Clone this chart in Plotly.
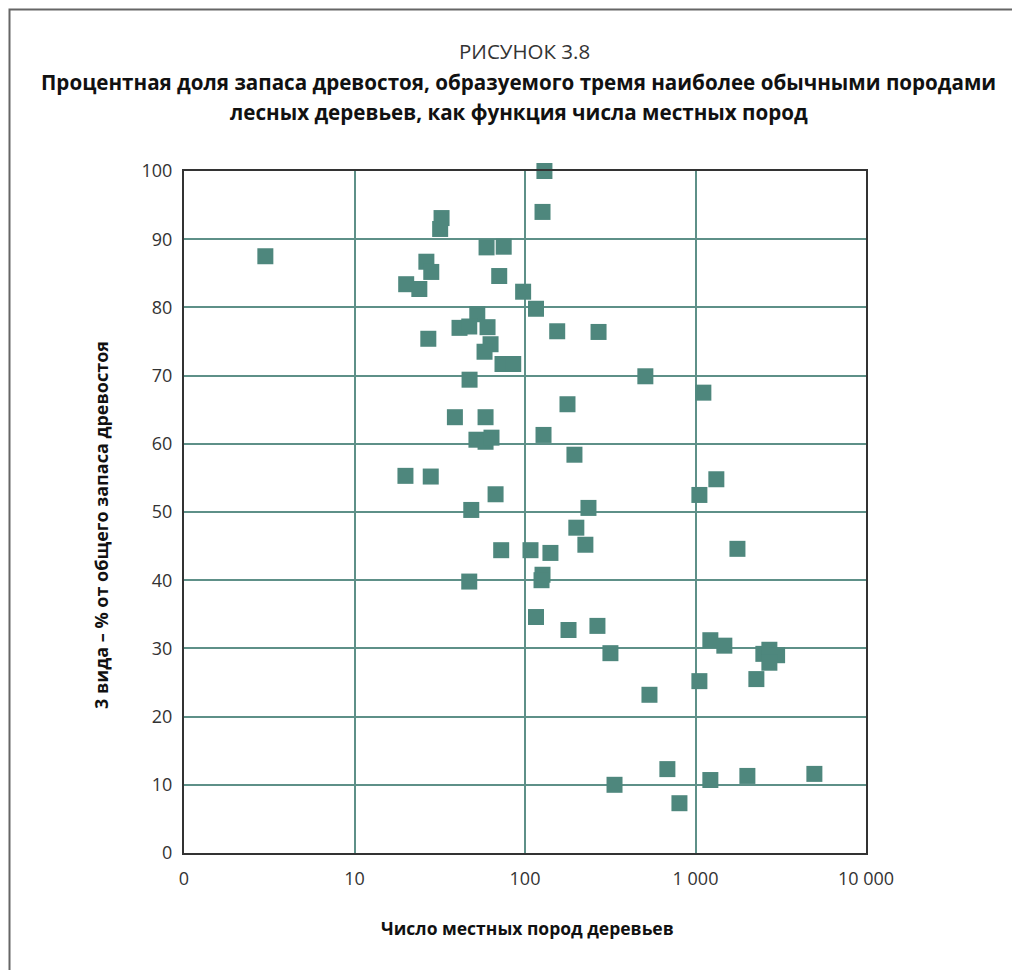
import plotly.graph_objects as go

# Number of native tree species (x) and % of growing stock by top 3 species (y)
species_count = [3.0, 32.4, 31.8, 59.5, 75, 26.4, 28.2, 70.6, 20.1, 24.0,
                 97.5, 116, 52.5, 41.3, 47.1, 60.3, 62.8, 57.9, 73.8, 85.3,
                 47.3, 27.1, 154.5, 270, 130, 126.7, 508, 1112, 177.5, 38.8,
                 58.7, 51.9, 58.7, 63.6, 128.4, 195, 19.9, 28.0, 67.2, 1325,
                 1054, 48.4, 235.6, 200, 226, 72.5, 107.7, 141, 1762, 126.7,
                 125, 47.1, 116, 180, 266, 317, 1222, 1476, 2500, 2712,
                 3010, 2712, 1054, 2275, 537, 684, 1222, 2015, 4980, 335, 805]
share_top3 = [87.5, 93.1, 91.5, 88.8, 88.9, 86.7, 85.2, 84.6, 83.4, 82.7,
              82.3, 79.8, 79.0, 77.0, 77.2, 77.1, 74.6, 73.5, 71.7, 71.7,
              69.4, 75.4, 76.5, 76.4, 100.0, 94.0, 69.9, 67.5, 65.8, 63.9,
              63.9, 60.6, 60.3, 60.9, 61.3, 58.4, 55.3, 55.2, 52.6, 54.8,
              52.5, 50.3, 50.6, 47.7, 45.2, 44.4, 44.4, 44.0, 44.6, 40.8,
              40.0, 39.8, 34.6, 32.7, 33.3, 29.3, 31.2, 30.4, 29.2, 29.8,
              29.0, 27.9, 25.2, 25.5, 23.2, 12.3, 10.7, 11.3, 11.6, 10.0, 7.3]

x_tickvals = [1, 10, 100, 1000, 10000]
x_ticktext = ["0", "10", "100", "1 000", "10 000"]
y_tickvals = [0, 10, 20, 30, 40, 50, 60, 70, 80, 90, 100]

TEAL = "#4e877d"
GRID = "#5e9088"
FONT = "Open Sans"

fig = go.Figure()
fig.add_trace(go.Scatter(
    x=species_count, y=share_top3, mode="markers",
    marker=dict(symbol="square", size=16, color=TEAL, line=dict(width=0)),
    cliponaxis=False, hoverinfo="x+y", showlegend=False,
))

# page body has an 8px margin, so the figure is sized to fit the window
fig.update_layout(
    width=1012, height=962,
    margin=dict(l=176, r=154, t=163, b=117),
    paper_bgcolor="white", plot_bgcolor="white",
    font=dict(family=FONT, color="#333333"),
    xaxis=dict(
        type="log", range=[0, 4], tickvals=x_tickvals, ticktext=x_ticktext,
        showgrid=True, gridcolor=GRID, gridwidth=1.5,
        showline=True, linecolor="#333333", linewidth=2, mirror=True,
        ticks="outside", ticklen=8, tickcolor="rgba(0,0,0,0)",
        tickfont=dict(size=18, family=FONT, color="#333333"),
        zeroline=False, fixedrange=True,
    ),
    yaxis=dict(
        range=[0, 100], tickvals=y_tickvals,
        showgrid=True, gridcolor=GRID, gridwidth=1.5,
        showline=True, linecolor="#333333", linewidth=2, mirror=True,
        ticks="outside", ticklen=6, tickcolor="rgba(0,0,0,0)",
        tickfont=dict(size=18, family=FONT, color="#333333"),
        zeroline=False, fixedrange=True,
    ),
)

def px_x(p):
    return (p - 184) / 682.0

def px_y(p):
    return (853 - p) / 682.0

annotations = [
    dict(text="РИСУНОК 3.8", x=px_x(524), y=px_y(51), showarrow=False,
         xref="paper", yref="paper", xanchor="center", yanchor="middle",
         font=dict(size=20.5, family=FONT, color="#333333")),
    dict(text="<b>Процентная доля запаса древостоя, образуемого тремя наиболее обычными породами</b>",
         x=px_x(518.5), y=px_y(82), showarrow=False,
         xref="paper", yref="paper", xanchor="center", yanchor="middle",
         font=dict(size=20.6, family=FONT, color="#111111")),
    dict(text="<b>лесных деревьев, как функция числа местных пород</b>",
         x=px_x(518.5), y=px_y(112), showarrow=False,
         xref="paper", yref="paper", xanchor="center", yanchor="middle",
         font=dict(size=20.6, family=FONT, color="#111111")),
    dict(text="<b>Число местных пород деревьев</b>",
         x=px_x(527), y=px_y(928), showarrow=False,
         xref="paper", yref="paper", xanchor="center", yanchor="middle",
         font=dict(size=17.5, family=FONT, color="#111111")),
    dict(text="<b>3 вида – % от общего запаса древостоя</b>",
         x=px_x(101), y=px_y(525), showarrow=False, textangle=-90,
         xref="paper", yref="paper", xanchor="center", yanchor="middle",
         font=dict(size=18, family=FONT, color="#111111")),
]
fig.update_layout(annotations=annotations)

fig.add_shape(type="rect", xref="paper", yref="paper",
              x0=px_x(9.5), x1=px_x(1017), y0=px_y(990), y1=px_y(9.5),
              line=dict(color="#666666", width=2), fillcolor="rgba(0,0,0,0)",
              layer="below")

fig.write_html("out.html")
